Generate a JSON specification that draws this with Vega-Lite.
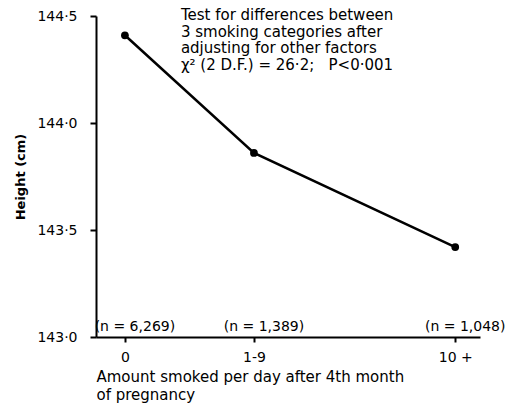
{
  "$schema": "https://vega.github.io/schema/vega-lite/v6.json",
  "autosize": "none",
  "width": 384,
  "height": 321,
  "padding": {"left": 96, "top": 16, "right": 28, "bottom": 69},
  "background": "white",
  "config": {
    "view": {"stroke": null},
    "font": "DejaVu Sans",
    "axis": {
      "grid": false,
      "domainColor": "black",
      "domainWidth": 2,
      "tickColor": "black",
      "tickWidth": 2,
      "labelColor": "black",
      "titleColor": "black",
      "labelFont": "DejaVu Sans",
      "titleFont": "DejaVu Sans"
    }
  },
  "layer": [
    {
      "data": {
        "values": [
          {"amount": 0, "height": 144.41, "n": "(n = 6,269)"},
          {"amount": 5, "height": 143.86, "n": "(n = 1,389)"},
          {"amount": 12.8, "height": 143.42, "n": "(n = 1,048)"}
        ]
      },
      "layer": [
        {
          "mark": {"type": "line", "color": "black", "strokeWidth": 2.5},
          "encoding": {
            "x": {
              "field": "amount",
              "type": "quantitative",
              "scale": {"domain": [-1.12, 13.76], "nice": false, "zero": false},
              "axis": {
                "values": [0, 5, 12.8],
                "labelExpr": "datum.value == 0 ? '0' : (datum.value == 5 ? '1-9' : '10 +')",
                "labelFontSize": 14,
                "labelPadding": 8,
                "tickSize": 5,
                "title": ["Amount smoked per day after 4th month", "of pregnancy"],
                "titleFontSize": 15,
                "titleFontWeight": "normal",
                "titleAnchor": "start",
                "titleAlign": "left",
                "titleLineHeight": 18,
                "titlePadding": 5
              }
            },
            "y": {
              "field": "height",
              "type": "quantitative",
              "scale": {"domain": [143, 144.5], "nice": false, "zero": false},
              "axis": {
                "values": [143, 143.5, 144, 144.5],
                "labelExpr": "replace(format(datum.value, '.1f'), '.', '·')",
                "labelFontSize": 14,
                "labelPadding": 13,
                "tickSize": 6,
                "title": "Height (cm)",
                "titleFontSize": 13,
                "titleFontWeight": "bold",
                "titlePadding": 9
              }
            }
          }
        },
        {
          "mark": {"type": "point", "filled": true, "color": "black", "size": 60, "opacity": 1},
          "encoding": {
            "x": {"field": "amount", "type": "quantitative"},
            "y": {"field": "height", "type": "quantitative"}
          }
        },
        {
          "mark": {"type": "text", "fontSize": 14, "fontWeight": "normal", "dx": 10, "dy": -10, "color": "black"},
          "encoding": {
            "x": {"field": "amount", "type": "quantitative"},
            "y": {"datum": 143},
            "text": {"field": "n"}
          }
        }
      ]
    },
    {
      "data": {"values": [{"note": "Test for differences between\n3 smoking categories after\nadjusting for other factors\nχ² (2 D.F.) = 26·2;\u00a0\u00a0\u00a0P<0·001"}]},
      "mark": {
        "type": "text",
        "fontSize": 15,
        "fontWeight": "normal",
        "align": "left",
        "baseline": "top",
        "lineHeight": 16.5,
        "lineBreak": "\n",
        "dy": -8,
        "color": "black"
      },
      "encoding": {
        "x": {"datum": 2.17},
        "y": {"datum": 144.5},
        "text": {"field": "note"}
      }
    }
  ]
}
